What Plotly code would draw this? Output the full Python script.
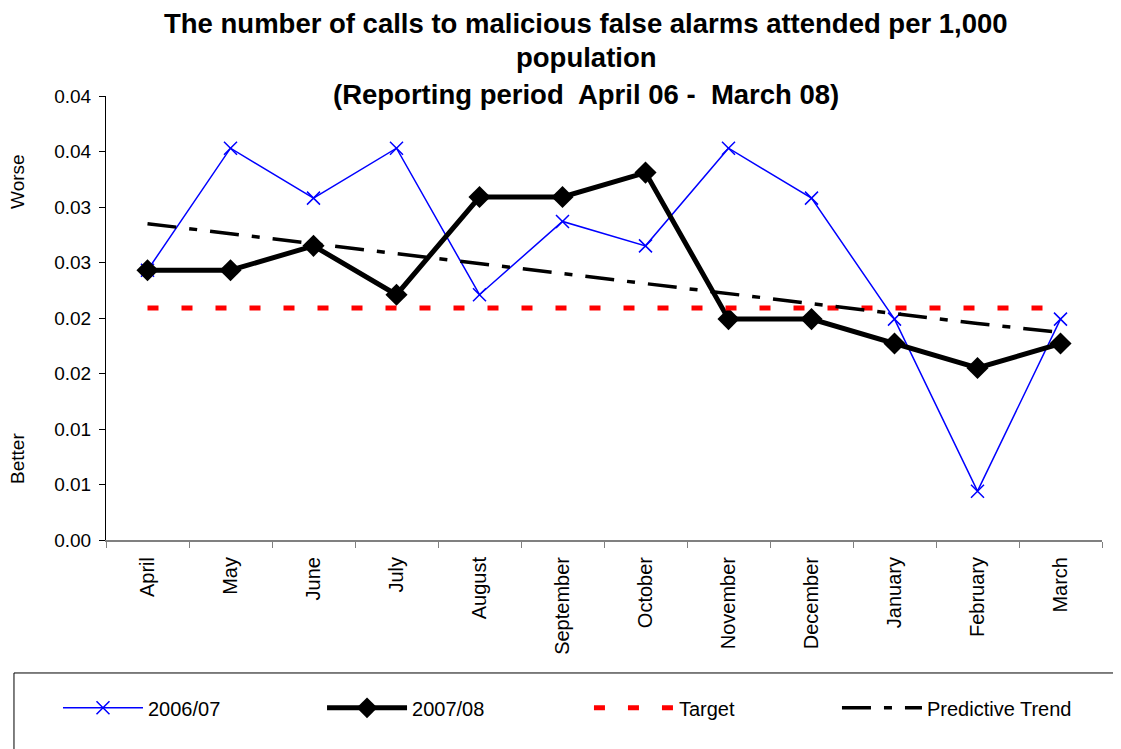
import plotly.graph_objects as go

months = ['April', 'May', 'June', 'July', 'August', 'September', 'October',
          'November', 'December', 'January', 'February', 'March']
calls_0607 = [0.0243, 0.0353, 0.0308, 0.0353, 0.0221, 0.0287, 0.0265,
              0.0353, 0.0308, 0.0199, 0.0044, 0.0199]
calls_0708 = [0.0243, 0.0243, 0.0265, 0.0221, 0.0309, 0.0309, 0.0331,
              0.0199, 0.0199, 0.0177, 0.0155, 0.0177]
target = [0.0209] * 12
trend = [0.0285, 0.0276, 0.0267, 0.0258, 0.0249, 0.0240, 0.0231,
         0.0222, 0.0213, 0.0204, 0.0195, 0.0187]
y_ticks = [0, 0.005, 0.01, 0.015, 0.02, 0.025, 0.03, 0.035, 0.04]
y_labels = ['0.00', '0.01', '0.01', '0.02', '0.02', '0.03', '0.03', '0.04', '0.04']
title_lines = ['The number of calls to malicious false alarms attended per 1,000',
               'population',
               '(Reporting period  April 06 -  March 08)']

FONT = 'Liberation Sans, Arial, sans-serif'

fig = go.Figure()
fig.add_trace(go.Scatter(x=months, y=calls_0607, name='2006/07', mode='lines+markers',
                         line=dict(color='#0000FF', width=1.5), legend='legend',
                         marker=dict(symbol='x-thin', size=13, line=dict(color='#0000FF', width=1.5))))
fig.add_trace(go.Scatter(x=months, y=calls_0708, name='2007/08', mode='lines+markers',
                         line=dict(color='black', width=5), legend='legend2',
                         marker=dict(symbol='diamond', size=17, color='black')))
fig.add_trace(go.Scatter(x=months, y=target, name='Target', mode='lines', legend='legend3',
                         line=dict(color='#FF0000', width=5, dash='11px,23px')))
fig.add_trace(go.Scatter(x=months, y=trend, name='Predictive Trend', mode='lines', legend='legend4',
                         line=dict(color='black', width=3.5, dash='29px,13px,8px,13px')))

# legend frame
fig.add_shape(type='rect', xref='paper', yref='paper',
              x0=-0.0924, x1=1.03, y0=-0.49, y1=-0.2995,
              line=dict(color='black', width=1), fillcolor='rgba(0,0,0,0)')

# title, one annotation per line so the spacing can follow the original
for line, ypos in zip(title_lines, [1.1622, 1.0878, 1.0023]):
    fig.add_annotation(text='<b>' + line + '</b>', xref='paper', yref='paper',
                       x=0.482, y=ypos, xanchor='center', yanchor='middle',
                       showarrow=False, font=dict(size=27.5, color='black'))

fig.add_annotation(text='Worse', xref='paper', yref='paper', x=-0.0884, y=0.8086,
                   xanchor='center', yanchor='middle',
                   textangle=-90, showarrow=False, font=dict(size=19, color='black'))
fig.add_annotation(text='Better', xref='paper', yref='paper', x=-0.0884, y=0.1847,
                   xanchor='center', yanchor='middle',
                   textangle=-90, showarrow=False, font=dict(size=19, color='black'))


def leg(x):
    return dict(orientation='h', x=x, xanchor='left', y=-0.378, yanchor='middle',
                itemwidth=80, font=dict(size=20), bgcolor='rgba(0,0,0,0)')


# page body has an 8px margin, so the figure is shifted by 8px
fig.update_layout(
    width=1113, height=741,
    margin=dict(l=98, r=19, t=88, b=209),
    paper_bgcolor='white', plot_bgcolor='white',
    font=dict(family=FONT, size=19, color='black'),
    showlegend=True,
    legend=leg(-0.0482), legend2=leg(0.2169), legend3=leg(0.4849), legend4=leg(0.7339),
    xaxis=dict(type='category', range=[-0.5, 11.5], tickangle=-90,
               showline=True, linecolor='#808080', linewidth=2,
               ticks='outside', tickson='boundaries', ticklen=6, tickcolor='#808080',
               ticklabelstandoff=7,
               showgrid=False, tickfont=dict(size=20)),
    yaxis=dict(range=[0, 0.04], tickvals=y_ticks, ticktext=y_labels,
               showline=True, linecolor='black', linewidth=1,
               ticks='outside', ticklen=6, tickcolor='black', ticklabelstandoff=4,
               showgrid=False, zeroline=False, tickfont=dict(size=19)),
)

fig.write_html('out.html')
